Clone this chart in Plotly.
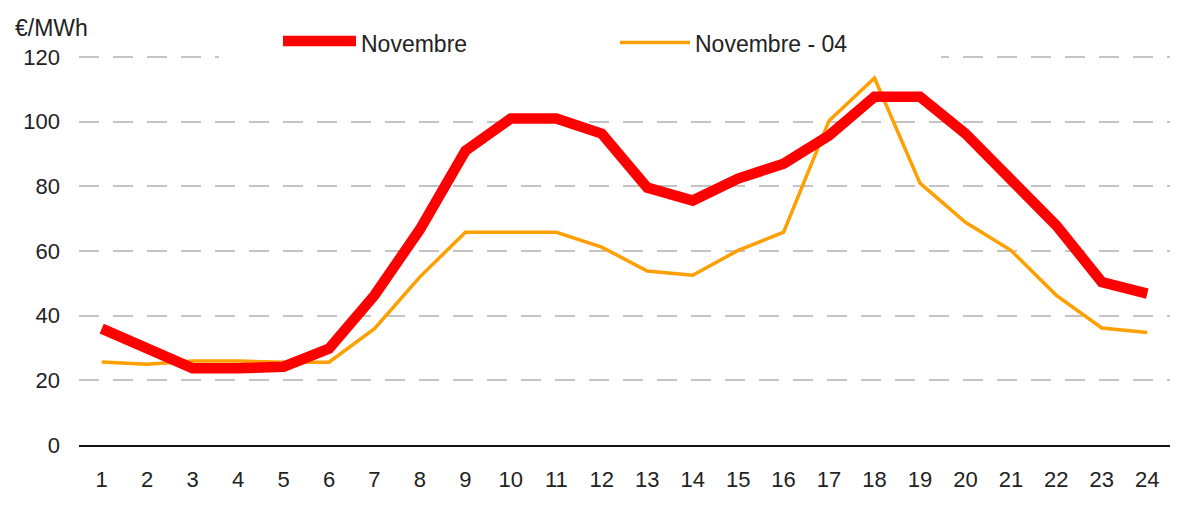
import plotly.graph_objects as go

hours = [str(h) for h in range(1, 25)]
novembre = [36, 30, 23.7, 23.7, 24.2, 29.8, 46.3, 66.7, 91, 101, 101, 96.3,
            79.6, 75.6, 82.4, 87, 95.7, 107.7, 107.7, 96.3, 81.8, 67.9, 50.4, 46.8]
novembre_04 = [25.7, 25, 26, 26, 25.6, 25.6, 36, 52, 65.8, 65.8, 65.8, 61.2,
               53.8, 52.5, 60.2, 65.8, 100.3, 113.5, 81, 68.9, 60.2, 46.3, 36.2, 34.8]
y_ticks = [0, 20, 40, 60, 80, 100, 120]

RED = "#ff0000"
ORANGE = "#ff9f00"
FONT = "Liberation Sans, Arial, sans-serif"

# page offset (body margin) is 8px; screen plot area x 79..1170, y 54..445
PW, PH = 1091, 391
X0, YB = 79, 445


def px(x):
    return (x - X0) / PW


def py(y):
    return (YB - y) / PH


fig = go.Figure()
fig.add_trace(go.Scatter(x=hours, y=novembre_04, mode="lines", name="Novembre - 04",
                         line=dict(color=ORANGE, width=3.5)))
fig.add_trace(go.Scatter(x=hours, y=novembre, mode="lines", name="Novembre",
                         line=dict(color=RED, width=10.5)))

fig.update_layout(
    width=1178, height=514,
    margin=dict(l=71, r=16, t=46, b=77),
    paper_bgcolor="white",
    plot_bgcolor="white",
    showlegend=False,
    font=dict(family=FONT, size=23, color="#222222"),
    xaxis=dict(type="category", range=[-0.5, 23.5], showgrid=False, showline=True,
               linecolor="#111111", linewidth=2, ticks="", ticklabelstandoff=14,
               zeroline=False, tickfont=dict(size=22)),
    yaxis=dict(range=[0, 120.93], tickvals=y_ticks, showgrid=True, gridcolor="#c4c4c4",
               gridwidth=2, griddash="20px,14px", zeroline=False, showline=False,
               ticks="", ticklabelstandoff=18, tickfont=dict(size=22)),
    shapes=[
        # legend box background (hides the top gridline behind the legend)
        dict(type="rect", xref="paper", yref="paper", layer="above",
             x0=px(219), x1=px(941), y0=py(63), y1=py(22),
             fillcolor="white", line=dict(width=0)),
        dict(type="line", xref="paper", yref="paper",
             x0=px(283), x1=px(356), y0=py(41), y1=py(41),
             line=dict(color=RED, width=10.5)),
        dict(type="line", xref="paper", yref="paper",
             x0=px(620), x1=px(690), y0=py(42.5), y1=py(42.5),
             line=dict(color=ORANGE, width=3.5)),
    ],
    annotations=[
        dict(text="€/MWh", xref="paper", yref="paper", x=px(13), y=py(28),
             xanchor="left", yanchor="middle", showarrow=False, font=dict(size=23)),
        dict(text="Novembre", xref="paper", yref="paper", x=px(359), y=py(44),
             xanchor="left", yanchor="middle", showarrow=False, font=dict(size=23)),
        dict(text="Novembre - 04", xref="paper", yref="paper", x=px(693), y=py(44),
             xanchor="left", yanchor="middle", showarrow=False, font=dict(size=23)),
    ],
)

fig.write_html("out.html")
